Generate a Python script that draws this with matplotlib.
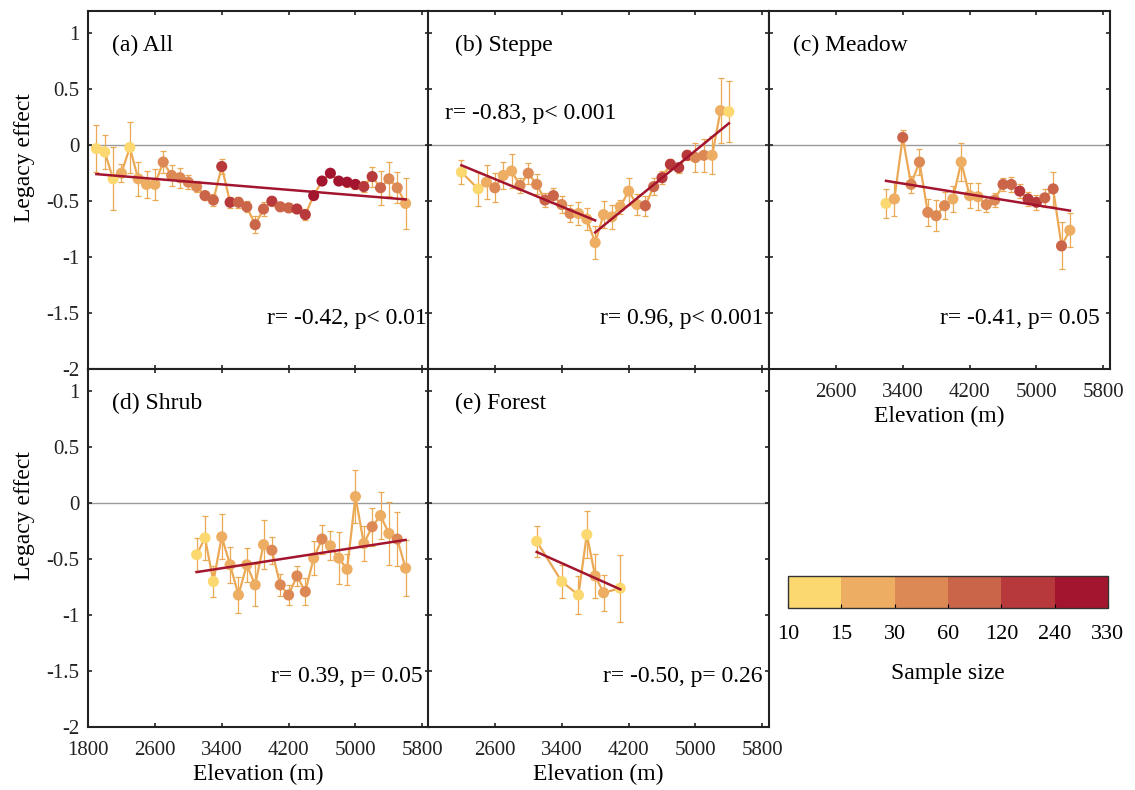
import numpy as np
import matplotlib
matplotlib.use("Agg")
import matplotlib.pyplot as plt
from matplotlib.colors import ListedColormap, BoundaryNorm

plt.rcParams['font.family'] = ['Liberation Serif', 'DejaVu Serif']
plt.rcParams['axes.unicode_minus'] = False

# sample size classes and their colours
n_bounds = [10, 15, 30, 60, 120, 240, 330]
n_colors = ['#FCD870', '#EDAE63', '#DD8955', '#CB654A', '#B7393C', '#A3152F']

# (a) All
elev_a = [1900, 2000, 2100, 2200, 2300, 2400, 2500, 2600, 2700, 2800, 2900, 3000, 3100,
          3200, 3300, 3400, 3500, 3600, 3700, 3800, 3900, 4000, 4100, 4200, 4300, 4400,
          4500, 4600, 4700, 4800, 4900, 5000, 5100, 5200, 5300, 5400, 5500, 5600]
le_a = [-0.03, -0.06, -0.30, -0.25, -0.02, -0.30, -0.35, -0.35, -0.15, -0.27, -0.29, -0.33, -0.37,
        -0.45, -0.49, -0.19, -0.51, -0.51, -0.55, -0.71, -0.57, -0.50, -0.55, -0.56, -0.57, -0.62,
        -0.45, -0.32, -0.25, -0.32, -0.33, -0.35, -0.37, -0.28, -0.38, -0.30, -0.38, -0.52]
se_a = [0.21, 0.15, 0.28, 0.08, 0.23, 0.15, 0.12, 0.14, 0.10, 0.095, 0.09, 0.065, 0.05,
        0.04, 0.05, 0.065, 0.05, 0.05, 0.05, 0.075, 0.06, 0.04, 0.04, 0.04, 0.04, 0.05,
        0.03, 0.03, 0.03, 0.03, 0.04, 0.04, 0.05, 0.09, 0.15, 0.15, 0.14, 0.23]
n_a = [12, 12, 12, 22, 12, 22, 22, 22, 45, 45, 45, 45, 45,
       90, 90, 180, 180, 90, 90, 90, 90, 180, 90, 90, 180, 180,
       280, 280, 280, 280, 280, 280, 180, 180, 90, 45, 45, 22]

# (b) Steppe
elev_b = [2200, 2400, 2500, 2600, 2700, 2800, 2900, 3000, 3100, 3200, 3300, 3400, 3500,
          3600, 3700, 3800, 3900, 4000, 4100, 4200, 4300, 4400, 4500, 4600, 4700, 4800,
          4900, 5000, 5100, 5200, 5300, 5400]
le_b = [-0.24, -0.39, -0.33, -0.38, -0.27, -0.23, -0.36, -0.25, -0.35, -0.49, -0.45, -0.53, -0.61,
        -0.61, -0.66, -0.87, -0.62, -0.64, -0.55, -0.41, -0.53, -0.54, -0.37, -0.29, -0.17, -0.20,
        -0.09, -0.11, -0.09, -0.09, 0.31, 0.30]
se_b = [0.11, 0.15, 0.15, 0.13, 0.12, 0.15, 0.07, 0.095, 0.09, 0.06, 0.07, 0.08, 0.075,
        0.10, 0.10, 0.15, 0.12, 0.11, 0.065, 0.12, 0.095, 0.09, 0.075, 0.06, 0.045, 0.045,
        0.045, 0.13, 0.15, 0.17, 0.29, 0.27]
n_b = [12, 12, 22, 45, 22, 22, 45, 45, 45, 90, 90, 45, 45,
       22, 22, 22, 22, 22, 22, 22, 22, 90, 90, 180, 180, 180,
       180, 45, 45, 22, 22, 12]
break_b = 3800

# (c) Meadow
elev_c = [3200, 3300, 3400, 3500, 3600, 3700, 3800, 3900, 4000, 4100, 4200, 4300,
          4400, 4500, 4600, 4700, 4800, 4900, 5000, 5100, 5200, 5300, 5400]
le_c = [-0.52, -0.48, 0.07, -0.35, -0.15, -0.60, -0.63, -0.54, -0.48, -0.15, -0.45, -0.46,
        -0.53, -0.49, -0.35, -0.35, -0.41, -0.48, -0.51, -0.47, -0.39, -0.90, -0.76]
se_c = [0.13, 0.15, 0.065, 0.075, 0.12, 0.12, 0.14, 0.12, 0.12, 0.17, 0.11, 0.12,
        0.07, 0.065, 0.06, 0.065, 0.06, 0.06, 0.065, 0.08, 0.15, 0.21, 0.15]
n_c = [12, 22, 90, 45, 45, 45, 45, 45, 22, 22, 22, 22,
       45, 45, 90, 90, 180, 180, 180, 90, 90, 90, 22]

# (d) Shrub
elev_d = [3100, 3200, 3300, 3400, 3500, 3600, 3700, 3800, 3900, 4000, 4100, 4200, 4300,
          4400, 4500, 4600, 4700, 4800, 4900, 5000, 5100, 5200, 5300, 5400, 5500, 5600]
le_d = [-0.46, -0.31, -0.70, -0.30, -0.55, -0.82, -0.55, -0.73, -0.37, -0.42, -0.73, -0.82, -0.65,
        -0.79, -0.49, -0.32, -0.38, -0.49, -0.59, 0.06, -0.36, -0.21, -0.11, -0.27, -0.32, -0.58]
se_d = [0.15, 0.20, 0.14, 0.20, 0.16, 0.16, 0.15, 0.19, 0.22, 0.12, 0.10, 0.09, 0.09,
        0.12, 0.15, 0.13, 0.13, 0.23, 0.14, 0.24, 0.16, 0.17, 0.21, 0.28, 0.24, 0.25]
n_d = [12, 12, 12, 22, 22, 22, 22, 22, 22, 45, 45, 45, 45,
       45, 22, 45, 22, 22, 22, 22, 22, 45, 22, 22, 45, 22]

# (e) Forest
elev_e = [3100, 3400, 3600, 3700, 3800, 3900, 4100]
le_e = [-0.34, -0.70, -0.82, -0.28, -0.65, -0.80, -0.76]
se_e = [0.14, 0.15, 0.17, 0.21, 0.20, 0.16, 0.30]
n_e = [12, 12, 12, 12, 22, 26, 12]

titles = ['(a) All', '(b) Steppe', '(c) Meadow', '(d) Shrub', '(e) Forest']
stats = ['r= -0.42, p< 0.01', 'r= 0.96, p< 0.001', 'r= -0.41, p= 0.05',
         'r= 0.39, p= 0.05', 'r= -0.50, p= 0.26']
stats_b_low = 'r= -0.83, p< 0.001'
xticks = [1800, 2600, 3400, 4200, 5000, 5800]
yticks = [1, 0.5, 0, -0.5, -1, -1.5, -2]
ytick_labels = ['1', '0.5', '0', '-0.5', '-1', '-1.5', '-2']

cmap = ListedColormap(n_colors)
norm = BoundaryNorm(n_bounds, cmap.N)

line_col = '#EBA955'
fit_col = '#A3152F'

fig = plt.figure(figsize=(11.35, 7.9), dpi=100)

W, H = 341 / 1135, 358 / 790
lefts = [88 / 1135, 428 / 1135, 769 / 1135]
bottoms = [1 - 369 / 790, 1 - 727 / 790]
pos = [(lefts[0], bottoms[0]), (lefts[1], bottoms[0]), (lefts[2], bottoms[0]),
       (lefts[0], bottoms[1]), (lefts[1], bottoms[1])]

panels = [(elev_a, le_a, se_a, n_a), (elev_b, le_b, se_b, n_b), (elev_c, le_c, se_c, n_c),
          (elev_d, le_d, se_d, n_d), (elev_e, le_e, se_e, n_e)]
stat_x = [0.992, 0.985, 0.97, 0.982, 0.982]
title_x = [0.07, 0.08, 0.07, 0.07, 0.08]

for i, (x, y, e, n) in enumerate(panels):
    ax = fig.add_axes([pos[i][0], pos[i][1], W, H])
    x = np.array(x, dtype=float)
    y = np.array(y)
    ax.axhline(0, color='#9a9a9a', lw=1.0, zorder=1)
    ax.errorbar(x, y, yerr=e, fmt='none', ecolor=line_col, elinewidth=0.9,
                capsize=2, capthick=0.9, zorder=2)
    ax.plot(x, y, color=line_col, lw=1.6, zorder=3)
    ax.scatter(x, y, c=n, cmap=cmap, norm=norm, s=64, edgecolors='none', zorder=4)

    # linear fits (Steppe split at the breakpoint)
    if i == 1:
        segs = [x <= break_b, x >= break_b]
    else:
        segs = [np.ones_like(x, dtype=bool)]
    for m in segs:
        k, b = np.polyfit(x[m], y[m], 1)
        xs = np.array([x[m].min(), x[m].max()])
        ax.plot(xs, k * xs + b, color=fit_col, lw=1.8, zorder=5)

    ax.set_xlim(1800, 5880)
    ax.set_ylim(-2, 1.2)
    ax.set_xticks(xticks)
    ax.set_yticks(yticks)
    ax.tick_params(direction='in', length=3, width=1.2, top=True, right=True,
                   labelsize=15, colors='#222222', pad=6)
    ax.tick_params(axis='x', pad=10)
    for s in ax.spines.values():
        s.set_linewidth(1.5)
        s.set_color('#222222')

    if i in (0, 3):
        ax.set_yticklabels(ytick_labels)
        ax.set_ylabel('Legacy effect', fontsize=17)
        ax.yaxis.set_label_coords(-0.155, 0.59)
    else:
        ax.set_yticklabels([])
    if i in (2, 3, 4):
        labs = [str(t) for t in xticks]
        if i != 3:
            labs[0] = ''
        ax.set_xticklabels(labs)
        ax.set_xlabel('Elevation (m)', fontsize=17, labelpad=3)
    else:
        ax.set_xticklabels([])

    ax.text(title_x[i], 0.905, titles[i], transform=ax.transAxes, fontsize=17,
            va='center', ha='left')
    ax.text(stat_x[i], 0.142, stats[i], transform=ax.transAxes, fontsize=17,
            va='center', ha='right')
    if i == 1:
        ax.text(0.05, 0.715, stats_b_low, transform=ax.transAxes, fontsize=17,
                va='center', ha='left')

# colour bar for sample size
cax = fig.add_axes([788 / 1135, 1 - 608 / 790, 320 / 1135, 32 / 790])
sm = plt.cm.ScalarMappable(cmap=cmap, norm=norm)
cb = fig.colorbar(sm, cax=cax, orientation='horizontal', ticks=n_bounds, spacing='uniform')
cb.ax.tick_params(direction='in', length=3, labelsize=16, pad=12)
cb.outline.set_linewidth(1.0)
cb.outline.set_edgecolor('#333333')
cb.set_label('Sample size', fontsize=17, labelpad=14)

fig.savefig('out.png', dpi=100)
